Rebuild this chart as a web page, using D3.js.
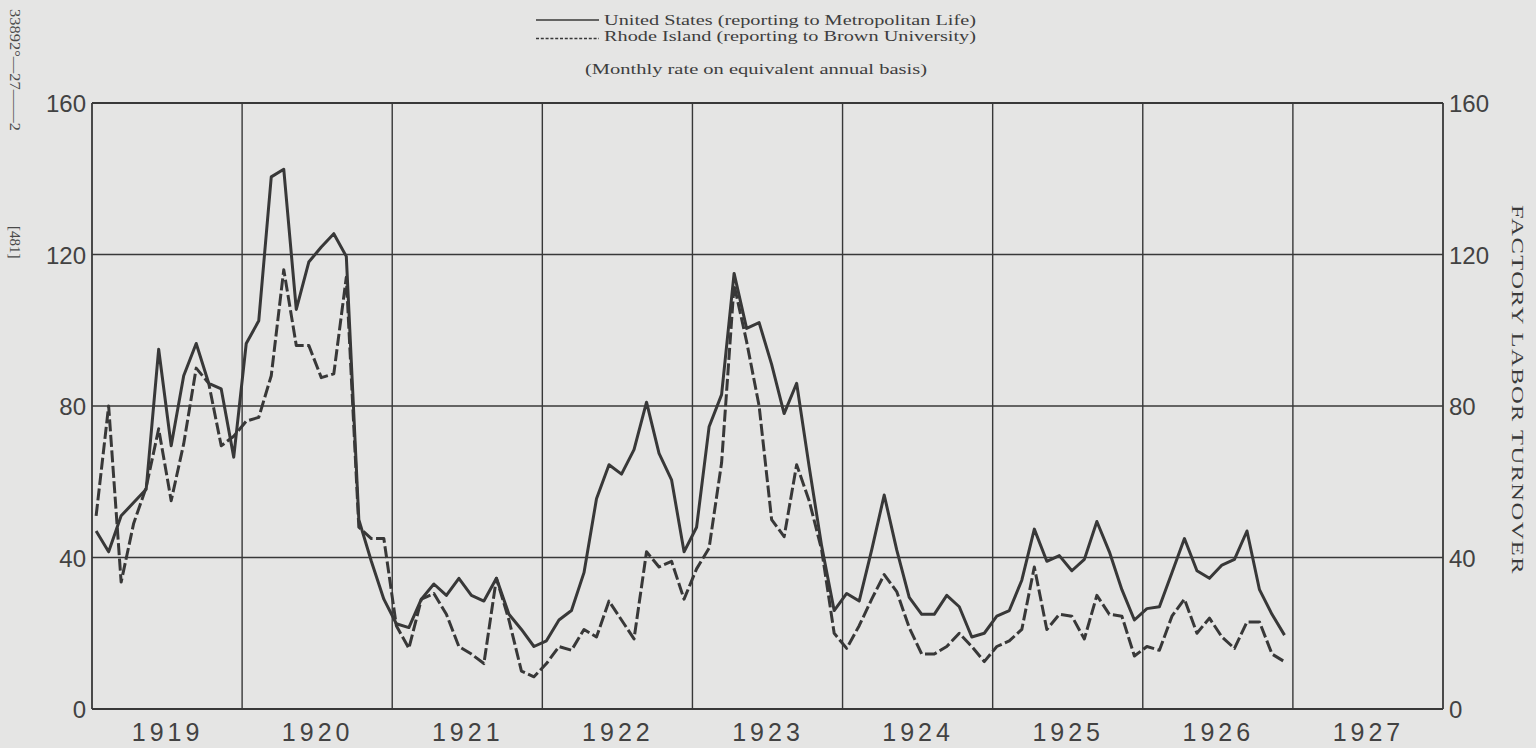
<!DOCTYPE html>
<html>
<head>
<meta charset="utf-8">
<script src="https://cdn.jsdelivr.net/npm/d3@7/dist/d3.min.js"></script>
<style>
  html, body { margin: 0; padding: 0; background: #e5e5e4; }
  svg { display: block; }
</style>
</head>
<body>
<svg id="chart" width="1536" height="748"></svg>
<script>
// Factory labor turnover, monthly rate on equivalent annual basis, 1919-1926
const years = [1919, 1920, 1921, 1922, 1923, 1924, 1925, 1926, 1927];
const yearLabels = ["1919", "1920", "1921", "1922", "1923", "1924", "1925", "1926", "1927"];
const yTicks = [0, 40, 80, 120, 160];

// United States (reporting to Metropolitan Life), Jan 1919 - Dec 1926
const usRate = [
  47, 41.5, 51, 54.5, 58, 95, 69.5, 88, 96.5, 86, 84.5, 66.5,
  96.5, 102.5, 140.5, 142.5, 105.5, 118, 122, 125.5, 119.5, 50, 39, 29,
  22.5, 21.5, 29, 33, 30, 34.5, 30, 28.5, 34.5, 25, 21, 16.5,
  18, 23.5, 26, 36, 55.5, 64.5, 62, 68.5, 81, 67.5, 60.5, 41.5,
  48, 74.5, 83, 115, 100.5, 102, 91, 78, 86, 64, 43, 26,
  30.5, 28.5, 42, 56.5, 42, 29.5, 25, 25, 30, 27, 19, 20,
  24.5, 26, 34, 47.5, 39, 40.5, 36.5, 39.5, 49.5, 41.5, 31.5, 23.5,
  26.5, 27, 36, 45, 36.5, 34.5, 38, 39.5, 47, 31.5, 25, 19.5
];

// Rhode Island (reporting to Brown University), Jan 1919 - Dec 1926
const riRate = [
  51, 80, 33.5, 49, 58.5, 74, 55, 70, 90, 86, 69.5, 72,
  76, 77, 88, 116, 96, 96, 87.5, 88.5, 114, 48, 45, 45,
  22, 16, 29, 30.5, 25, 16.5, 14.5, 12, 34.5, 23.5, 10, 8.5,
  12, 16.5, 15.5, 21, 19, 28.5, 23.5, 18.5, 41.5, 37.5, 39, 29,
  37, 42.5, 65, 112, 97, 80, 50, 45.5, 64.5, 55, 42, 20,
  16, 22, 29, 35.5, 31, 21.5, 14.5, 14.5, 16.5, 20, 16.5, 12.5,
  16.5, 18, 21, 37.5, 21, 25, 24.5, 18.5, 30, 25, 24.5, 14,
  16.5, 15.5, 24.5, 29, 20, 24, 19, 16, 23, 23, 14.5, 12.5
];

const ink = "#383838";
const svg = d3.select("#chart");

const plot = { left: 92, right: 1443, top: 103, bottom: 709 };

const x = d3.scaleLinear().domain([1919, 1928]).range([plot.left, plot.right]);
const y = d3.scaleLinear().domain([0, 160]).range([plot.bottom, plot.top]);

// month index -> fractional year position
const monthPos = i => 1919 + (i + 0.33) / 12;

// ---- grid and frame ----
const grid = svg.append("g").attr("stroke", ink).attr("fill", "none");
grid.selectAll("line.v")
  .data(d3.range(1919, 1929))
  .join("line")
  .attr("class", "v")
  .attr("x1", d => x(d)).attr("x2", d => x(d))
  .attr("y1", y(160)).attr("y2", y(0))
  .attr("stroke-width", (d) => (d === 1919 || d === 1928) ? 1.8 : 1.4);
grid.selectAll("line.h")
  .data(yTicks)
  .join("line")
  .attr("class", "h")
  .attr("x1", x(1919)).attr("x2", x(1928))
  .attr("y1", d => y(d)).attr("y2", d => y(d))
  .attr("stroke-width", (d) => (d === 0 || d === 160) ? 1.8 : 1.4);

// ---- y axis labels, both sides ----
const numFont = "'Liberation Sans', Arial, sans-serif";
const leftAxis = d3.axisLeft(y).tickValues(yTicks).tickSize(0).tickPadding(5).tickFormat(d3.format("d"));
const rightAxis = d3.axisRight(y).tickValues(yTicks).tickSize(0).tickPadding(5).tickFormat(d3.format("d"));

const gl = svg.append("g").attr("transform", `translate(${plot.left - 1},0)`).call(leftAxis);
const gr = svg.append("g").attr("transform", `translate(${plot.right + 1},0)`).call(rightAxis);
[gl, gr].forEach(g => {
  g.select(".domain").remove();
  g.selectAll("text")
    .attr("font-family", numFont)
    .attr("font-size", 24)
    .attr("fill", "#424242")
    .attr("dy", "0.36em");
});

// ---- year labels centered under each column ----
const xAxis = d3.axisBottom(x)
  .tickValues(years.map(d => d + 0.5))
  .tickSize(0).tickPadding(14)
  .tickFormat((d, i) => yearLabels[i]);
const gx = svg.append("g").attr("transform", `translate(0,${plot.bottom})`).call(xAxis);
gx.select(".domain").remove();
gx.selectAll("text")
  .attr("font-family", numFont)
  .attr("font-size", 25)
  .attr("letter-spacing", "4px")
  .attr("fill", "#424242");

// ---- data lines ----
const line = d3.line()
  .x((d, i) => x(monthPos(i)))
  .y(d => y(d));

svg.append("path")
  .datum(riRate)
  .attr("d", line)
  .attr("fill", "none")
  .attr("stroke", ink)
  .attr("stroke-width", 3)
  .attr("stroke-dasharray", "12,3.5")
  .attr("stroke-linejoin", "round");

svg.append("path")
  .datum(usRate)
  .attr("d", line)
  .attr("fill", "none")
  .attr("stroke", ink)
  .attr("stroke-width", 3)
  .attr("stroke-linejoin", "round");

// ---- legend and subtitle ----
const serif = "'Liberation Serif', 'Times New Roman', serif";
const legend = svg.append("g");
legend.append("line")
  .attr("x1", 536).attr("x2", 599).attr("y1", 20).attr("y2", 20)
  .attr("stroke", ink).attr("stroke-width", 1.4);
legend.append("line")
  .attr("x1", 536).attr("x2", 599).attr("y1", 38.5).attr("y2", 38.5)
  .attr("stroke", ink).attr("stroke-width", 1.6).attr("stroke-dasharray", "3,1.8");
legend.append("text")
  .attr("x", 604).attr("y", 24.5)
  .attr("font-family", serif).attr("font-size", 15).attr("fill", "#3e3e3e")
  .attr("textLength", 372).attr("lengthAdjust", "spacingAndGlyphs")
  .text("United States (reporting to Metropolitan Life)");
legend.append("text")
  .attr("x", 604).attr("y", 41)
  .attr("font-family", serif).attr("font-size", 15).attr("fill", "#3e3e3e")
  .attr("textLength", 372).attr("lengthAdjust", "spacingAndGlyphs")
  .text("Rhode Island (reporting to Brown University)");
svg.append("text")
  .attr("x", 585).attr("y", 74)
  .attr("font-family", serif).attr("font-size", 14).attr("fill", "#3e3e3e")
  .attr("textLength", 342).attr("lengthAdjust", "spacingAndGlyphs")
  .text("(Monthly rate on equivalent annual basis)");

// ---- vertical captions ----
svg.append("text")
  .attr("transform", "translate(1512,205) rotate(90)")
  .attr("font-family", serif).attr("font-size", 17).attr("fill", "#3a3a3a")
  .attr("letter-spacing", "1px")
  .attr("textLength", 370).attr("lengthAdjust", "spacingAndGlyphs")
  .text("FACTORY  LABOR  TURNOVER");

svg.append("text")
  .attr("transform", "translate(10,9) rotate(90)")
  .attr("font-family", serif).attr("font-size", 15).attr("fill", "#4a4a4a")
  .attr("textLength", 122).attr("lengthAdjust", "spacingAndGlyphs")
  .text("33892°—27——2");

svg.append("text")
  .attr("transform", "translate(10,226) rotate(90)")
  .attr("font-family", serif).attr("font-size", 15).attr("fill", "#4a4a4a")
  .text("[481]");
</script>
</body>
</html>
